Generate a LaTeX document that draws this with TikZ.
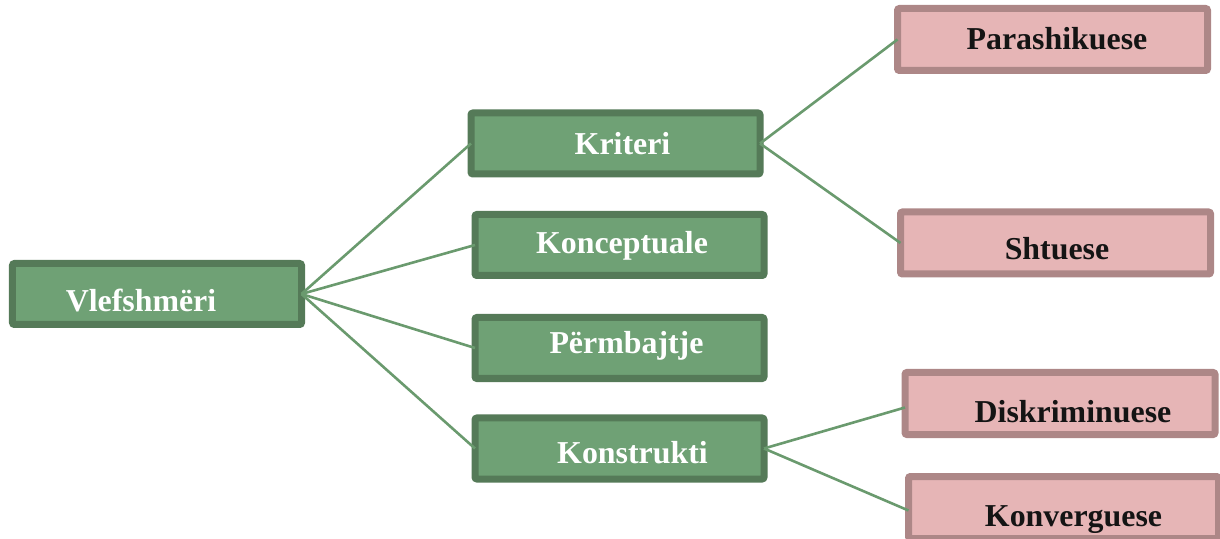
\documentclass[tikz,border=0pt]{standalone}
\usepackage{fontspec}
\setmainfont{Liberation Serif}
\definecolor{vlGreen}{HTML}{6FA175}
\definecolor{vlGreenDark}{HTML}{557A58}
\definecolor{vlPink}{HTML}{E6B5B6}
\definecolor{vlPinkDark}{HTML}{AD8787}
\definecolor{vlLine}{HTML}{6A9A6E}
\begin{document}
\begin{tikzpicture}[
    x=1bp, y=-1bp,
    vlBox/.style={rectangle, rounded corners=2bp, line width=7bp, inner sep=0pt, outer sep=0pt},
    vlGreenBox/.style={vlBox, draw=vlGreenDark, fill=vlGreen, minimum width=289bp, minimum height=61bp},
    vlPinkBox/.style={vlBox, draw=vlPinkDark, fill=vlPink, minimum width=310bp, minimum height=62bp},
    vlText/.style={anchor=base, inner sep=0pt, font=\fontsize{32}{36}\selectfont\bfseries},
    vlEdge/.style={draw=vlLine, line width=2.6bp}
]
\useasboundingbox (0,0) rectangle (1220,539);
% boxes
\node[vlGreenBox] (vlef) at (157,294) {};
\node[vlGreenBox] (kriteri) at (615.5,143.5) {};
\node[vlGreenBox] (koncept) at (619.5,245) {};
\node[vlGreenBox] (permb) at (619.5,348) {};
\node[vlGreenBox] (konstr) at (619.5,448.5) {};
\node[vlPinkBox] (parash) at (1052.5,39.5) {};
\node[vlPinkBox] (shtuese) at (1055.5,243) {};
\node[vlPinkBox] (diskrim) at (1060,403.5) {};
\node[vlPinkBox] (konverg) at (1063.5,507.5) {};
% connectors
\draw[vlEdge] (vlef.east) -- (kriteri.west);
\draw[vlEdge] (vlef.east) -- (koncept.west);
\draw[vlEdge] (vlef.east) -- (permb.west);
\draw[vlEdge] (vlef.east) -- (konstr.west);
\draw[vlEdge] (kriteri.east) -- (parash.west);
\draw[vlEdge] (kriteri.east) -- (shtuese.west);
\draw[vlEdge] (konstr.east) -- ([yshift=-4bp]diskrim.west);
\draw[vlEdge] (konstr.east) -- ([yshift=-3bp]konverg.west);
% labels
\node[vlText, text=white] (vlefT) at (141,312) {Vlefshmëri};
\node[vlText, text=white] (kriteriT) at (622.5,155) {Kriteri};
\node[vlText, text=white] (konceptT) at (622,254) {Konceptuale};
\node[vlText, text=white] (permbT) at (626.5,354) {Përmbajtje};
\node[vlText, text=white] (konstrT) at (632.5,463) {Konstrukti};
\node[vlText, text=black!92] (parashT) at (1057,50) {Parashikuese};
\node[vlText, text=black!92] (shtueseT) at (1057,260) {Shtuese};
\node[vlText, text=black!92] (diskrimT) at (1073,422) {Diskriminuese};
\node[vlText, text=black!92] (konvergT) at (1073.5,526) {Konverguese};
\end{tikzpicture}
\end{document}
